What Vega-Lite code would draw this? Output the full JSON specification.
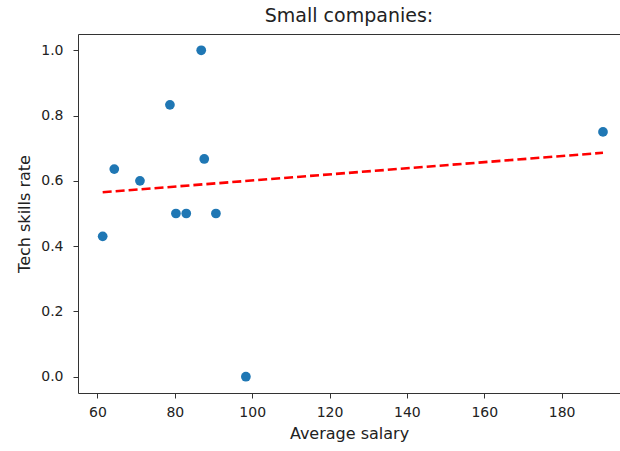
{
  "$schema": "https://vega.github.io/schema/vega-lite/v6.json",
  "width": 542,
  "height": 359,
  "autosize": {"type": "none"},
  "padding": {"left": 78, "top": 34, "right": 0, "bottom": 58},
  "background": "white",
  "title": {
    "text": "Small companies:",
    "font": "DejaVu Sans",
    "fontSize": 19,
    "fontWeight": "normal",
    "color": "#222222",
    "anchor": "middle",
    "offset": 8
  },
  "datasets": {
    "companies": [
      {"salary": 61.34, "tech_rate": 0.43},
      {"salary": 64.34, "tech_rate": 0.636},
      {"salary": 70.98, "tech_rate": 0.6},
      {"salary": 78.73, "tech_rate": 0.833},
      {"salary": 80.28, "tech_rate": 0.5},
      {"salary": 82.95, "tech_rate": 0.5},
      {"salary": 86.82, "tech_rate": 1.0},
      {"salary": 87.6, "tech_rate": 0.667},
      {"salary": 90.62, "tech_rate": 0.5},
      {"salary": 98.37, "tech_rate": 0.0},
      {"salary": 190.7, "tech_rate": 0.75}
    ],
    "fit": [
      {"salary": 61.34, "tech_rate": 0.565},
      {"salary": 190.7, "tech_rate": 0.686}
    ]
  },
  "config": {
    "view": {"stroke": "#333333", "strokeWidth": 1},
    "axis": {
      "grid": false,
      "domain": false,
      "labelFont": "DejaVu Sans",
      "labelFontSize": 14,
      "labelColor": "#222222",
      "titleFont": "DejaVu Sans",
      "titleFontSize": 16,
      "titleFontWeight": "normal",
      "titleColor": "#222222",
      "tickColor": "#333333",
      "tickSize": 5,
      "tickWidth": 1
    }
  },
  "layer": [
    {
      "data": {"name": "fit"},
      "mark": {"type": "line", "color": "#ff0000", "strokeWidth": 2.6, "strokeDash": [9, 4]},
      "encoding": {
        "x": {"field": "salary", "type": "quantitative"},
        "y": {"field": "tech_rate", "type": "quantitative"}
      }
    },
    {
      "data": {"name": "companies"},
      "mark": {"type": "circle", "color": "#1f77b4", "opacity": 1, "size": 95},
      "encoding": {
        "x": {
          "field": "salary",
          "type": "quantitative",
          "title": "Average salary",
          "scale": {"domain": [54.96, 195.1], "nice": false, "zero": false},
          "axis": {"values": [60, 80, 100, 120, 140, 160, 180], "labelPadding": 7, "titlePadding": 6}
        },
        "y": {
          "field": "tech_rate",
          "type": "quantitative",
          "title": "Tech skills rate",
          "scale": {"domain": [-0.05, 1.05], "nice": false, "zero": false},
          "axis": {"values": [0, 0.2, 0.4, 0.6, 0.8, 1.0], "format": ".1f", "labelPadding": 10, "titlePadding": 8}
        }
      }
    }
  ]
}
